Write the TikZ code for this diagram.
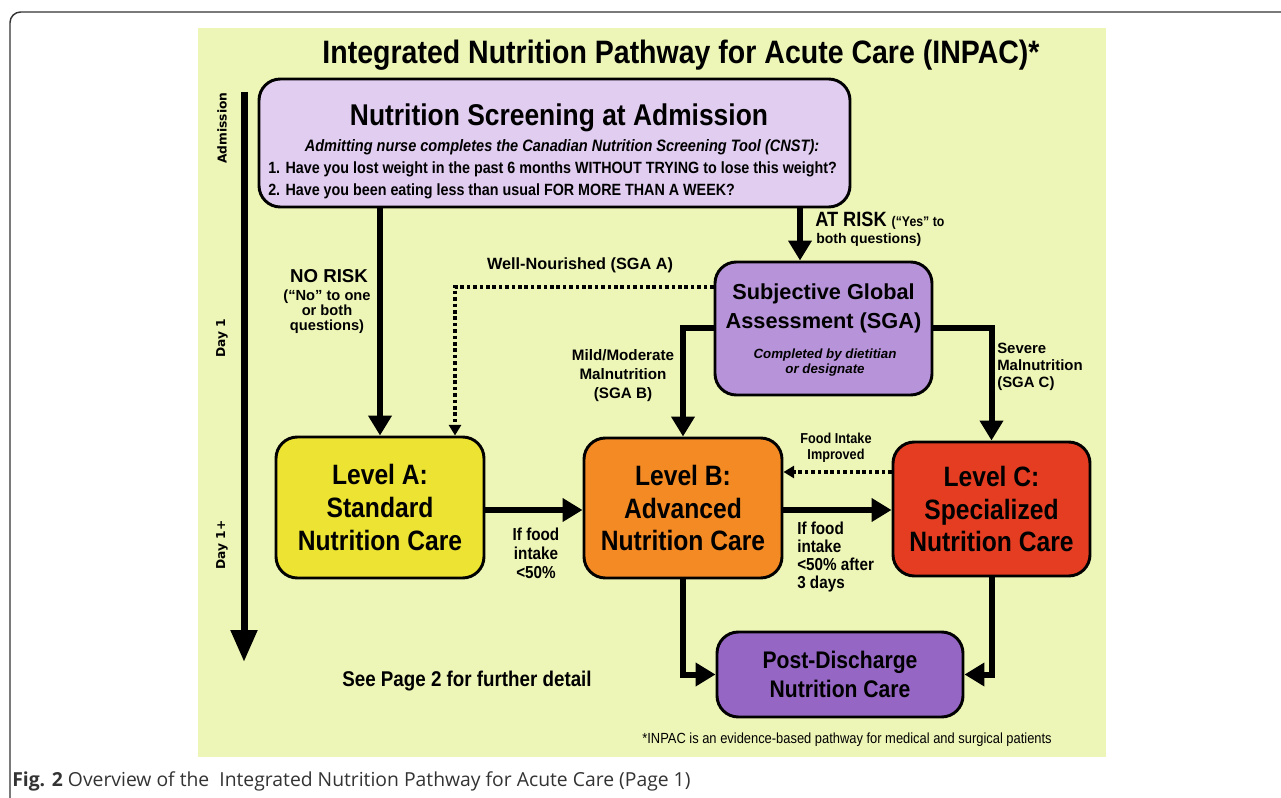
\documentclass[tikz,border=0pt]{standalone}
\usepackage{fontspec}
\setmainfont{Liberation Sans}
\newfontfamily\cond[FakeStretch=0.88]{Liberation Sans}
\newfontfamily\dejavu{DejaVu Sans}
\newfontfamily\capfont{Open Sans}
\usetikzlibrary{arrows.meta,calc}
\definecolor{bg}{HTML}{EEF6B7}
\definecolor{scrfill}{HTML}{E1CDF0}
\definecolor{sgafill}{HTML}{B794D9}
\definecolor{afill}{HTML}{EDE332}
\definecolor{bfill}{HTML}{F38A24}
\definecolor{cfill}{HTML}{E43D22}
\definecolor{postfill}{HTML}{9566C4}
\definecolor{captext}{HTML}{333333}
\tikzset{
  box/.style={draw=black, line width=2.2pt, rounded corners=16pt, inner sep=0pt},
  bigarrow/.style={line width=4.5pt, -{Triangle[length=15pt,width=17pt]}},
  dotarrow/.style={line width=2.6pt, dash pattern=on 2.6pt off 2.2pt, -{Triangle[length=8pt,width=9pt]}},
  lbl/.style={inner sep=0pt, align=center},
  levelfont/.style={font=\cond\bfseries\fontsize{21}{24.4}\selectfont},
  sidefont/.style={font=\dejavu\bfseries\fontsize{9.2}{11}\selectfont},
}
\begin{document}
\begin{tikzpicture}[x=0.75pt,y=-0.75pt]
\useasboundingbox (0,0) rectangle (1281,798);
% outer frame
\draw[line width=1.1pt, color=black!80, rounded corners=8pt] (10,798) -- (10,12) -- (1281,12);
% background panel
\fill[bg] (198,28) rectangle (1106,757);

% title
\node[lbl, font=\cond\bfseries\fontsize{24.3}{28}\selectfont] (title) at (681,55) {Integrated Nutrition Pathway for Acute Care (INPAC)*};

% timeline
\coordinate (tl0) at (244,92);
\coordinate (tl1) at (244,662);
\draw[line width=5.25pt, -{Triangle[length=24pt,width=19pt]}] (tl0) -- (tl1);
\node[lbl, sidefont, rotate=90] (sAdm) at (222,128) {Admission};
\node[lbl, sidefont, rotate=90] (sDay1) at (222,338) {Day 1};
\node[lbl, sidefont, rotate=90] (sDay1p) at (222,545) {Day 1+};

% boxes
\node[box, fill=scrfill, minimum width=591*0.75pt, minimum height=128*0.75pt] (scr) at (554.5,143) {};
\node[box, fill=sgafill, minimum width=217*0.75pt, minimum height=133*0.75pt] (sga) at (823.5,328.5) {};
\node[box, fill=afill, levelfont, align=center, minimum width=208*0.75pt, minimum height=141*0.75pt] (A) at (380,507.5) {Level A:\\Standard\\Nutrition Care};
\node[box, fill=bfill, levelfont, align=center, minimum width=198*0.75pt, minimum height=140*0.75pt] (B) at (683,508) {Level B:\\Advanced\\Nutrition Care};
\node[box, fill=cfill, levelfont, align=center, minimum width=197*0.75pt, minimum height=134*0.75pt] (C) at (991.5,509) {Level C:\\Specialized\\Nutrition Care};
\node[box, fill=postfill, align=center, font=\cond\bfseries\fontsize{18}{21.75}\selectfont, minimum width=246*0.75pt, minimum height=85*0.75pt] (post) at (840,674.5) {Post-Discharge\\Nutrition Care};

% screening text
\node[lbl, font=\cond\bfseries\fontsize{22.5}{26}\selectfont] (scrT) at (559,118) {Nutrition Screening at Admission};
\node[lbl, font=\cond\bfseries\itshape\fontsize{12.4}{14}\selectfont] (scrI) at (562,147) {Admitting nurse completes the Canadian Nutrition Screening Tool (CNST):};
\node[lbl, anchor=west, font=\cond\bfseries\fontsize{12.2}{14}\selectfont] (q1) at (268,169) {1. Have you lost weight in the past 6 months WITHOUT TRYING to lose this weight?};
\node[lbl, anchor=west, font=\cond\bfseries\fontsize{12.2}{14}\selectfont] (q2) at (268,191) {2. Have you been eating less than usual FOR MORE THAN A WEEK?};

% SGA text
\node[lbl, font=\bfseries\fontsize{16.3}{21.75}\selectfont] (sgaT) at (823.5,308.5) {Subjective Global\\Assessment (SGA)};
\node[lbl, font=\bfseries\itshape\fontsize{10}{11.25}\selectfont] (sgaI) at (825,362.5) {Completed by dietitian\\or designate};

% connectors
\draw[bigarrow] (A.north |- scr.south) -- (A.north);
\coordinate (atrisk) at ($(sga.north)+(-23.5,0)$);
\draw[bigarrow] (atrisk |- scr.south) -- (atrisk);
\coordinate (sgaA) at ($(sga.west)+(0,-41.5)$);
\coordinate (Adot) at ($(A.north)+(75,0)$);
\draw[dotarrow] (sgaA) -| (Adot);
\draw[bigarrow] (sga.west) -| (B.north);
\draw[bigarrow] (sga.east) -| (C.north);
\draw[bigarrow] ($(A.east)+(0,2.5)$) -- ($(A.east -| B.west)+(0,2.5)$);
\draw[bigarrow] ($(B.east)+(0,2)$) -- ($(B.east -| C.west)+(0,2)$);
\coordinate (Cimp) at ($(C.west)+(0,-37)$);
\draw[dotarrow] (Cimp) -- (Cimp -| B.east);
\draw[bigarrow] (B.south) |- (post.west);
\draw[bigarrow] (C.south) |- (post.east);

% labels
\node[lbl, font=\bfseries\fontsize{14}{16}\selectfont] (noRisk) at (329,276) {NO RISK};
\node[lbl, font=\bfseries\fontsize{11}{11.25}\selectfont] (noRiskS) at (327,312) {(“No” to one\\or both\\questions)};
\node[lbl, anchor=west, font=\cond\bfseries\fontsize{15.5}{18}\selectfont] (atRisk) at (815,221) {AT RISK \fontsize{10.5}{12}\selectfont(“Yes” to};
\node[lbl, anchor=west, font=\bfseries\fontsize{10.5}{12}\selectfont] (atRiskS) at (816,240) {both questions)};
\node[lbl, font=\bfseries\fontsize{12.2}{14}\selectfont] (wellN) at (580,265) {Well-Nourished (SGA A)};
\node[lbl, font=\bfseries\fontsize{11.4}{14.25}\selectfont] (mild) at (623,376) {Mild/Moderate\\Malnutrition\\(SGA B)};
\node[lbl, anchor=west, align=left, font=\bfseries\fontsize{11.2}{12.75}\selectfont] (severe) at (997,367) {Severe\\Malnutrition\\(SGA C)};
\node[lbl, font=\cond\bfseries\fontsize{13}{14.25}\selectfont] (ifA) at (536,553) {If food\\intake\\<50\%};
\node[lbl, anchor=west, align=left, font=\cond\bfseries\fontsize{13}{13.5}\selectfont] (ifB) at (797,557) {If food\\intake\\<50\% after\\3 days};
\node[lbl, font=\cond\bfseries\fontsize{10.8}{12}\selectfont] (improved) at (836,448) {Food Intake\\Improved};
\node[lbl, font=\cond\bfseries\fontsize{16}{18}\selectfont] (seePage) at (467,681) {See Page 2 for further detail};
\node[lbl, anchor=east, font=\cond\fontsize{11}{12}\selectfont] (foot) at (1052,740) {*INPAC is an evidence-based pathway for medical and surgical patients};
\node[lbl, anchor=west, text=captext, font=\capfont\fontsize{14.5}{17}\selectfont] (caption) at (12,781) {\textbf{Fig. 2} Overview of the\ \ Integrated Nutrition Pathway for Acute Care (Page 1)};
\end{tikzpicture}
\end{document}
